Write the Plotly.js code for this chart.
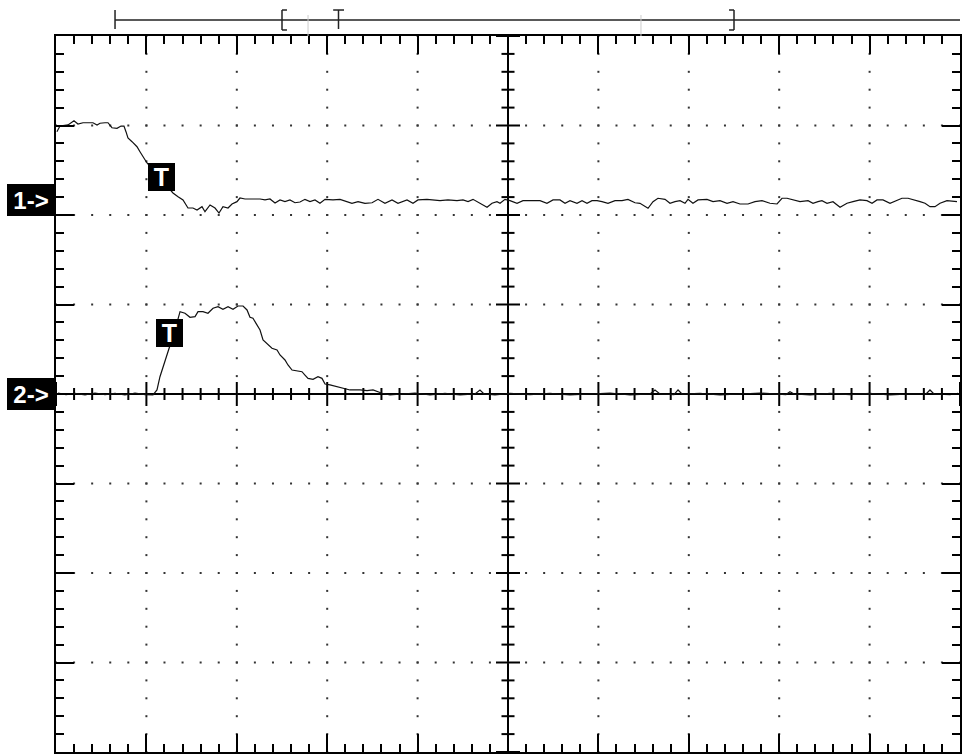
<!DOCTYPE html>
<html><head><meta charset="utf-8">
<script src="https://cdn.plot.ly/plotly-3.0.1.min.js"></script>
<style>html,body{margin:0;padding:0;background:#fff}#plot{width:962px;height:754px}</style>
</head><body><div id="plot"></div>
<script>
// Channel 1 (divisions)
const ch1X = [-4.99,-4.956,-4.867,-4.801,-4.757,-4.701,-4.646,-4.591,-4.546,-4.513,-4.458,-4.425,-4.381,-4.325,-4.281,-4.248,-4.226,-4.204,-4.159,-4.104,-4.071,-4.027,-3.993,-3.85,-3.706,-3.65,-3.595,-3.54,-3.485,-3.44,-3.385,-3.352,-3.296,-3.241,-3.197,-3.153,-3.097,-3.053,-2.998,-2.965,-2.909,-2.854,-2.799,-2.743,-2.688,-2.633,-2.577,-2.522,-2.467,-2.412,-2.356,-2.301,-2.246,-2.19,-2.135,-2.08,-2.024,-1.936,-1.858,-1.781,-1.726,-1.659,-1.582,-1.504,-1.438,-1.361,-1.283,-1.217,-1.117,-1.051,-0.996,-0.896,-0.83,-0.752,-0.664,-0.564,-0.498,-0.442,-0.387,-0.31,-0.232,-0.177,-0.122,-0.088,-0.033,0.022,0.1,0.166,0.277,0.354,0.431,0.498,0.575,0.631,0.686,0.763,0.819,0.874,0.929,0.985,1.04,1.106,1.184,1.261,1.327,1.405,1.46,1.549,1.604,1.659,1.737,1.792,1.847,1.903,1.958,1.991,2.046,2.102,2.201,2.268,2.345,2.423,2.489,2.566,2.655,2.732,2.81,2.898,2.976,3.031,3.086,3.153,3.23,3.319,3.374,3.429,3.473,3.529,3.595,3.673,3.75,3.816,3.894,3.971,4.027,4.082,4.148,4.226,4.303,4.358,4.425,4.502,4.558,4.613,4.668,4.723,4.779,4.856,4.923,4.967];
const ch1Y = [2.931,2.994,3.006,3.054,3.017,3.031,3.031,3.031,3.006,3.025,3.031,3.031,2.975,2.969,2.994,2.994,2.931,2.86,2.819,2.763,2.707,2.634,2.581,2.413,2.246,2.204,2.168,2.078,2.078,2.056,2.093,2.037,2.112,2.078,2.022,2.093,2.078,2.123,2.149,2.19,2.179,2.179,2.182,2.179,2.168,2.179,2.134,2.168,2.149,2.168,2.137,2.145,2.175,2.149,2.168,2.131,2.175,2.168,2.175,2.149,2.131,2.149,2.131,2.137,2.175,2.131,2.168,2.131,2.168,2.131,2.168,2.175,2.168,2.16,2.168,2.16,2.168,2.149,2.175,2.131,2.086,2.131,2.149,2.131,2.175,2.16,2.131,2.16,2.16,2.16,2.131,2.168,2.168,2.131,2.16,2.131,2.16,2.131,2.16,2.16,2.149,2.131,2.16,2.16,2.175,2.137,2.131,2.075,2.149,2.187,2.175,2.131,2.149,2.16,2.131,2.175,2.131,2.168,2.175,2.149,2.16,2.131,2.149,2.123,2.123,2.149,2.16,2.131,2.123,2.187,2.187,2.168,2.149,2.16,2.131,2.149,2.16,2.131,2.149,2.086,2.131,2.149,2.168,2.16,2.131,2.168,2.168,2.131,2.168,2.187,2.187,2.16,2.149,2.131,2.093,2.093,2.131,2.16,2.149,2.149];
// Channel 2 (divisions)
const ch2X = [-4.978,-4.889,-4.79,-4.679,-4.569,-4.458,-4.347,-4.237,-4.126,-4.015,-3.927,-3.883,-3.85,-3.794,-3.75,-3.684,-3.628,-3.573,-3.518,-3.462,-3.429,-3.374,-3.319,-3.263,-3.208,-3.153,-3.097,-3.042,-2.987,-2.931,-2.887,-2.854,-2.821,-2.777,-2.743,-2.71,-2.666,-2.611,-2.555,-2.522,-2.467,-2.434,-2.389,-2.334,-2.279,-2.246,-2.212,-2.157,-2.102,-2.058,-2.024,-1.969,-1.892,-1.825,-1.748,-1.637,-1.56,-1.493,-1.394,-1.305,-1.195,-1.029,-0.863,-0.697,-0.531,-0.365,-0.31,-0.265,-0.144,0.022,0.243,0.465,0.686,0.907,1.128,1.35,1.571,1.626,1.681,1.836,1.881,1.925,2.124,2.345,2.566,2.788,3.075,3.119,3.164,3.341,3.562,3.783,4.004,4.226,4.447,4.624,4.668,4.712,4.889,4.978];
const ch2Y = [0.011,-0.006,0.006,-0.011,0.011,-0.006,0.006,-0.011,0.011,-0.006,-0.011,0.045,0.193,0.361,0.514,0.715,0.92,0.902,0.857,0.864,0.92,0.92,0.902,0.958,0.975,0.946,0.975,0.946,0.983,0.983,0.939,0.857,0.846,0.771,0.715,0.603,0.566,0.511,0.492,0.436,0.38,0.324,0.268,0.26,0.249,0.212,0.175,0.164,0.193,0.175,0.112,0.101,0.082,0.064,0.045,0.045,0.037,0.045,0.008,-0.011,0,0.011,-0.011,0.006,-0.011,0,0.045,0,-0.011,0.006,-0.006,0.006,-0.011,0,0.011,-0.011,0,0.045,0,-0.006,0.045,0,0.006,-0.011,0,0.011,-0.006,0.026,0,-0.011,0.006,-0.006,0.006,-0.011,0,0,0.045,0,-0.006,0.006];
const chLabels = ['1->','2->'];
const chLevels = [2.17, 0];
const trigLabel = 'T';
const trigPos = [[-3.833, 2.425], [-3.739, 0.682]];

// graticule dots
const gx = [], gy = [];
for (let i = -4; i <= 4; i++) { if (i === 0) continue;
  for (let k = -20; k <= 20; k++) { gx.push(i); gy.push(k * 0.2); } }
for (let j = -3; j <= 3; j++) { if (j === 0) continue;
  for (let k = -25; k <= 25; k++) { gx.push(k * 0.2); gy.push(j); } }
// center line ticks
const tx = [], ty = [];
for (let k = -25; k <= 25; k++) { const h = (k % 5 === 0) ? 0.134 : 0.067;
  tx.push(k * 0.2, k * 0.2, null); ty.push(-h, h, null); }
for (let k = -20; k <= 20; k++) { const w = (k % 5 === 0) ? 0.133 : 0.072;
  tx.push(-w, w, null); ty.push(k * 0.2, k * 0.2, null); }

const traces = [
  {x: gx, y: gy, mode: 'markers', marker: {symbol: 'square', size: 2, color: '#333'}, hoverinfo: 'skip'},
  {x: tx, y: ty, mode: 'lines', line: {color: '#000', width: 2}, hoverinfo: 'skip', connectgaps: false},
  {x: ch1X, y: ch1Y, mode: 'lines', line: {color: '#111', width: 1.2}},
  {x: ch2X, y: ch2Y, mode: 'lines', line: {color: '#111', width: 1.2}}
];

const ann = [];
chLabels.forEach((t, i) => ann.push({text: '<b>' + t + '</b>', xref: 'paper', yref: 'y', x: -0.0277, y: chLevels[i],
  xanchor: 'center', yanchor: 'middle', showarrow: false, bgcolor: '#000', borderpad: 0, borderwidth: 0,
  width: 48, height: 32, font: {family: 'Liberation Sans, Arial', size: 24, color: '#fff'}}));
trigPos.forEach(p => ann.push({text: '<b>' + trigLabel + '</b>', xref: 'x', yref: 'y', x: p[0], y: p[1],
  xanchor: 'center', yanchor: 'middle', showarrow: false, bgcolor: '#000', borderpad: 0, borderwidth: 0,
  width: 27, height: 28, font: {family: 'Liberation Sans, Arial', size: 25, color: '#fff'}}));

const lc = {color: '#222', width: 1.5};
const yb = 1.0223, yt = 1.0363, ybot = 1.0098;
const shapes = [
  {type: 'line', xref: 'x', yref: 'paper', x0: -4.347, x1: 5, y0: yb, y1: yb, line: lc},
  {type: 'line', xref: 'x', yref: 'paper', x0: -4.347, x1: -4.347, y0: yt, y1: ybot, line: lc},
  {type: 'line', xref: 'x', yref: 'paper', x0: -2.5, x1: -2.5, y0: yt, y1: 1.0084, line: lc},
  {type: 'line', xref: 'x', yref: 'paper', x0: -2.5, x1: -2.445, y0: yt, y1: yt, line: lc},
  {type: 'line', xref: 'x', yref: 'paper', x0: -2.5, x1: -2.445, y0: 1.0084, y1: 1.0084, line: lc},
  {type: 'line', xref: 'x', yref: 'paper', x0: 2.5, x1: 2.5, y0: yt, y1: 1.0084, line: lc},
  {type: 'line', xref: 'x', yref: 'paper', x0: 2.5, x1: 2.445, y0: yt, y1: yt, line: lc},
  {type: 'line', xref: 'x', yref: 'paper', x0: 2.5, x1: 2.445, y0: 1.0084, y1: 1.0084, line: lc},
  {type: 'line', xref: 'x', yref: 'paper', x0: -1.934, x1: -1.814, y0: yt, y1: yt, line: lc},
  {type: 'line', xref: 'x', yref: 'paper', x0: -1.875, x1: -1.875, y0: yt, y1: ybot, line: lc},
  {type: 'line', xref: 'x', yref: 'paper', x0: -2.212, x1: -2.212, y0: 1.0293, y1: 1.0, line: {color: '#ccc', width: 1}},
  {type: 'line', xref: 'x', yref: 'paper', x0: 1.471, x1: 1.471, y0: 1.0293, y1: 1.0, line: {color: '#ccc', width: 1}}
];

const axBase = {showgrid: false, showticklabels: false, showline: true, linewidth: 2, linecolor: '#000',
  mirror: 'allticks', ticks: 'inside', ticklen: 18, tickwidth: 2, tickcolor: '#000', dtick: 1, tick0: 0,
  zeroline: true, zerolinecolor: '#000', zerolinewidth: 2, fixedrange: true,
  minor: {ticks: 'inside', ticklen: 8, tickwidth: 2, tickcolor: '#000', dtick: 0.2, tick0: 0, showgrid: false}};

const layout = {
  width: 962, height: 754, margin: {l: 56, r: 2, t: 36, b: 2, pad: 0},
  paper_bgcolor: '#fff', plot_bgcolor: '#fff', showlegend: false,
  xaxis: Object.assign({}, axBase, {range: [-5, 5]}),
  yaxis: Object.assign({}, axBase, {range: [-4, 4]}),
  annotations: ann, shapes: shapes
};
Plotly.newPlot('plot', traces, layout, {displayModeBar: false, staticPlot: true});
</script></body></html>
